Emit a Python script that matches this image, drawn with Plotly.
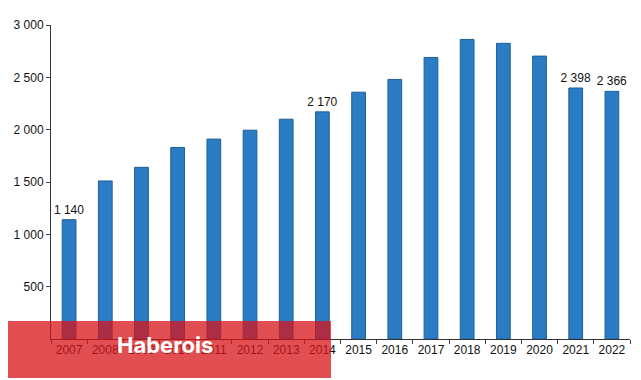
import plotly.graph_objects as go

years = ["2007", "2008", "2009", "2010", "2011", "2012", "2013", "2014",
         "2015", "2016", "2017", "2018", "2019", "2020", "2021", "2022"]
values = [1140, 1510, 1640, 1830, 1910, 1995, 2100, 2170,
          2358, 2480, 2690, 2862, 2825, 2703, 2398, 2366]
labelled_years = ["2007", "2014", "2021", "2022"]
y_ticks = [500, 1000, 1500, 2000, 2500, 3000]

def fmt(v):
    return f"{v:,}".replace(",", " ")

texts = [fmt(v) if y in labelled_years else "" for y, v in zip(years, values)]

fig = go.Figure(go.Bar(
    x=years, y=values,
    marker=dict(color="#2a7cc4", line=dict(color="#1f5f99", width=1)),
    width=0.38,
    text=texts, textposition="outside", cliponaxis=False,
    constraintext="none", textangle=0,
    textfont=dict(family="Liberation Sans, Arial", size=12, color="#111"),
))

# page body has an 8px margin, so the figure is sized to fit the 641x380 window
fig.update_layout(
    width=633, height=372,
    margin=dict(l=43, r=11, t=17, b=41, autoexpand=False),
    paper_bgcolor="white", plot_bgcolor="white",
    showlegend=False,
    font=dict(family="Liberation Sans, Arial", size=12, color="#111"),
    xaxis=dict(
        type="category", tickson="boundaries", ticks="outside", ticklen=4,
        showline=True, linecolor="#333", linewidth=1, showgrid=False,
        tickfont=dict(size=12, color="#111"), automargin=False,
    ),
    yaxis=dict(
        range=[0, 3000], tickvals=y_ticks, ticktext=[fmt(v) for v in y_ticks],
        ticks="outside", ticklen=4, showline=True, linecolor="#333", linewidth=1,
        showgrid=False, zeroline=False, tickfont=dict(size=12, color="#111"),
        automargin=False,
    ),
    shapes=[dict(
        type="rect", xref="paper", yref="paper",
        x0=-51/579, x1=280/579, y0=-39/314, y1=18/314,
        fillcolor="rgba(215,20,25,0.75)", line=dict(width=0), layer="above",
    )],
    annotations=[dict(
        xref="paper", yref="paper", x=114/579, y=-6/314,
        text="<b>Haberois</b>", showarrow=False,
        font=dict(family="Inter, Roboto, sans-serif", size=22, color="white"),
        xanchor="center", yanchor="middle",
    )],
)

fig.write_html("out.html")
